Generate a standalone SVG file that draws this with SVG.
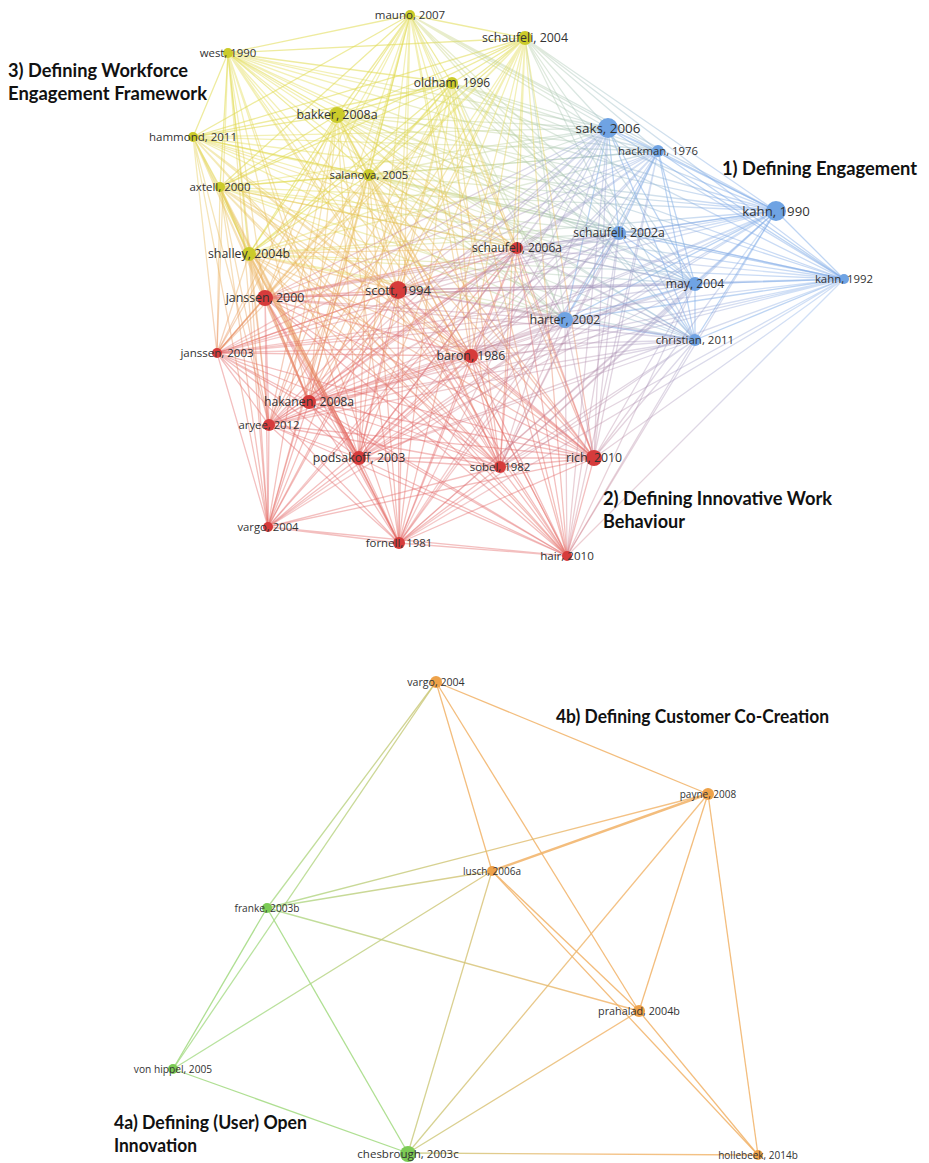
<svg xmlns="http://www.w3.org/2000/svg" width="929" height="1163" viewBox="0 0 929 1163">
<defs>
<linearGradient id="gYR" gradientUnits="userSpaceOnUse" x1="0" y1="110" x2="0" y2="430"><stop offset="0" stop-color="#e2db52"/><stop offset="0.5" stop-color="#eab15a"/><stop offset="1" stop-color="#e46a62"/></linearGradient>
<linearGradient id="gBR" gradientUnits="userSpaceOnUse" x1="720" y1="220" x2="420" y2="470"><stop offset="0" stop-color="#7ea8e6"/><stop offset="1" stop-color="#e26a6a"/></linearGradient>
<linearGradient id="gYB" gradientUnits="userSpaceOnUse" x1="330" y1="0" x2="720" y2="0"><stop offset="0" stop-color="#e2db52"/><stop offset="0.5" stop-color="#b7cfa8"/><stop offset="1" stop-color="#7ea8e6"/></linearGradient>
<linearGradient id="gGO" gradientUnits="userSpaceOnUse" x1="260" y1="0" x2="600" y2="0"><stop offset="0" stop-color="#a6db86"/><stop offset="1" stop-color="#f1b266"/></linearGradient>
</defs>
<style>
.e{fill:none;stroke-width:1.3}
.yy{stroke:#e0da50;stroke-opacity:.55}
.bb{stroke:#7eace8;stroke-opacity:.5}
.rr{stroke:#e26666;stroke-opacity:.42}
.yb{stroke:url(#gYB);stroke-opacity:.42}
.yr{stroke:url(#gYR);stroke-opacity:.42}
.br{stroke:url(#gBR);stroke-opacity:.36}
.oo{stroke:#f1b266;stroke-opacity:.85;stroke-width:1.3}
.go{stroke:url(#gGO);stroke-opacity:.8;stroke-width:1.3}
.gg{stroke:#a6db86;stroke-opacity:.9;stroke-width:1.3}
.ny{fill:#cbcb2a}
.nb{fill:#6fa3e3}
.nr{fill:#d63b3b}
.no{fill:#eea24a}
.ng{fill:#7ccb55}
.l{font-family:"Open Sans","Liberation Sans",sans-serif;fill:#333;text-anchor:middle}
.t{font-family:Lato,"Open Sans","Liberation Sans",sans-serif;font-weight:700;font-size:18px;fill:#111}
</style>
<g id="connectors">
<g id="top-edges">
<path class="e yy" d="M410 15L525 38M410 15L228 53M410 15L452 83M410 15L337 115M410 15L193 137M410 15L369 175M410 15L220 187M410 15L249 254"/>
<path class="e yy" d="M525 38L228 53M525 38L452 83M525 38L337 115M525 38L193 137M525 38L369 175M525 38L220 187M525 38L249 254"/>
<path class="e yy" d="M228 53L452 83M228 53L337 115M228 53L193 137M228 53L369 175M228 53L220 187M228 53L249 254"/>
<path class="e yy" d="M452 83L337 115M452 83L193 137M452 83L369 175M452 83L220 187M452 83L249 254"/>
<path class="e yy" d="M337 115L193 137M337 115L369 175M337 115L220 187M337 115L249 254"/>
<path class="e yy" d="M193 137L369 175M193 137L220 187M193 137L249 254"/>
<path class="e yy" d="M369 175L220 187M369 175L249 254"/>
<path class="e yy" style="stroke-width:2.4" d="M220 187L249 254"/>
<path class="e bb" d="M608 128L658 151M608 128L776 211M608 128L619 233M608 128L695 284M608 128L844 279M608 128L565 320M608 128L695 340"/>
<path class="e bb" d="M658 151L776 211M658 151L619 233M658 151L695 284M658 151L844 279M658 151L565 320M658 151L695 340"/>
<path class="e bb" d="M776 211L619 233M776 211L695 284M776 211L844 279M776 211L565 320M776 211L695 340"/>
<path class="e bb" d="M619 233L695 284M619 233L844 279M619 233L565 320M619 233L695 340"/>
<path class="e bb" d="M695 284L844 279M695 284L565 320M695 284L695 340"/>
<path class="e bb" d="M844 279L565 320M844 279L695 340"/>
<path class="e bb" d="M565 320L695 340"/>
<path class="e rr" d="M517 248L398 290M517 248L265 298M517 248L217 353M517 248L471 356M517 248L309 402M517 248L269 425M517 248L359 458M517 248L500 467M517 248L594 458M517 248L268 527M517 248L399 543M517 248L567 556"/>
<path class="e rr" d="M398 290L265 298M398 290L217 353M398 290L471 356M398 290L309 402M398 290L269 425M398 290L359 458M398 290L500 467M398 290L594 458M398 290L268 527M398 290L399 543M398 290L567 556"/>
<path class="e rr" d="M265 298L217 353M265 298L471 356M265 298L269 425M265 298L500 467M265 298L594 458M265 298L268 527M265 298L399 543M265 298L567 556"/>
<path class="e rr" style="stroke-width:2.2" d="M265 298L309 402M265 298L359 458"/>
<path class="e rr" d="M217 353L471 356M217 353L309 402M217 353L269 425M217 353L359 458M217 353L500 467M217 353L594 458M217 353L268 527M217 353L399 543M217 353L567 556"/>
<path class="e rr" d="M471 356L309 402M471 356L269 425M471 356L359 458M471 356L500 467M471 356L594 458M471 356L268 527M471 356L399 543M471 356L567 556"/>
<path class="e rr" d="M309 402L269 425M309 402L359 458M309 402L500 467M309 402L594 458M309 402L268 527M309 402L399 543M309 402L567 556"/>
<path class="e rr" d="M269 425L359 458M269 425L500 467M269 425L594 458M269 425L268 527M269 425L399 543M269 425L567 556"/>
<path class="e rr" d="M359 458L500 467M359 458L594 458M359 458L268 527M359 458L399 543M359 458L567 556"/>
<path class="e rr" d="M500 467L594 458M500 467L268 527M500 467L399 543M500 467L567 556"/>
<path class="e rr" d="M594 458L268 527M594 458L399 543M594 458L567 556"/>
<path class="e rr" d="M268 527L399 543M268 527L567 556M399 543L567 556"/>
<path class="e yb" d="M410 15L608 128M410 15L658 151M410 15L776 211M410 15L619 233M410 15L695 284M410 15L844 279M410 15L565 320M410 15L695 340"/>
<path class="e yb" d="M525 38L608 128M525 38L658 151M525 38L776 211M525 38L619 233M525 38L695 284M525 38L844 279M525 38L565 320M525 38L695 340"/>
<path class="e yb" d="M228 53L608 128M228 53L658 151M228 53L776 211M228 53L619 233M228 53L695 284M228 53L844 279M228 53L565 320M228 53L695 340"/>
<path class="e yb" d="M452 83L608 128M452 83L658 151M452 83L776 211M452 83L619 233M452 83L695 284M452 83L844 279M452 83L565 320M452 83L695 340"/>
<path class="e yb" d="M337 115L608 128M337 115L658 151M337 115L776 211M337 115L619 233M337 115L695 284M337 115L844 279M337 115L565 320M337 115L695 340"/>
<path class="e yb" d="M193 137L608 128M193 137L658 151M193 137L776 211M193 137L619 233M193 137L695 284M193 137L844 279M193 137L565 320M193 137L695 340"/>
<path class="e yb" d="M369 175L608 128M369 175L658 151M369 175L776 211M369 175L619 233M369 175L695 284M369 175L844 279M369 175L565 320M369 175L695 340"/>
<path class="e yb" d="M220 187L608 128M220 187L658 151M220 187L776 211M220 187L619 233M220 187L695 284M220 187L844 279M220 187L565 320M220 187L695 340"/>
<path class="e yb" d="M249 254L608 128M249 254L658 151M249 254L776 211M249 254L619 233M249 254L695 284M249 254L844 279M249 254L565 320M249 254L695 340"/>
<path class="e yr" d="M410 15L517 248M410 15L398 290M410 15L265 298M410 15L217 353M410 15L471 356M410 15L309 402M410 15L269 425M410 15L359 458M410 15L500 467M410 15L594 458M410 15L268 527M410 15L399 543M410 15L567 556"/>
<path class="e yr" d="M525 38L517 248M525 38L398 290M525 38L265 298M525 38L217 353M525 38L471 356M525 38L309 402M525 38L269 425M525 38L359 458M525 38L500 467M525 38L594 458M525 38L268 527M525 38L399 543M525 38L567 556"/>
<path class="e yr" d="M228 53L517 248M228 53L398 290M228 53L265 298M228 53L217 353M228 53L471 356M228 53L309 402M228 53L269 425M228 53L359 458M228 53L500 467M228 53L594 458M228 53L268 527M228 53L399 543M228 53L567 556"/>
<path class="e yr" d="M452 83L517 248M452 83L398 290M452 83L265 298M452 83L217 353M452 83L471 356M452 83L309 402M452 83L269 425M452 83L359 458M452 83L500 467M452 83L594 458M452 83L268 527M452 83L399 543M452 83L567 556"/>
<path class="e yr" d="M337 115L517 248M337 115L398 290M337 115L265 298M337 115L217 353M337 115L471 356M337 115L309 402M337 115L269 425M337 115L359 458M337 115L500 467M337 115L594 458M337 115L268 527M337 115L399 543M337 115L567 556"/>
<path class="e yr" d="M193 137L517 248M193 137L398 290M193 137L265 298M193 137L217 353M193 137L471 356M193 137L309 402M193 137L269 425M193 137L359 458M193 137L500 467M193 137L594 458M193 137L268 527M193 137L399 543M193 137L567 556"/>
<path class="e yr" d="M369 175L517 248M369 175L398 290M369 175L265 298M369 175L217 353M369 175L471 356M369 175L309 402M369 175L269 425M369 175L359 458M369 175L500 467M369 175L594 458M369 175L268 527M369 175L399 543M369 175L567 556"/>
<path class="e yr" d="M220 187L517 248M220 187L398 290M220 187L265 298M220 187L217 353M220 187L471 356M220 187L309 402M220 187L269 425M220 187L359 458M220 187L500 467M220 187L594 458M220 187L268 527M220 187L399 543M220 187L567 556"/>
<path class="e yr" d="M249 254L517 248M249 254L398 290M249 254L265 298M249 254L217 353M249 254L471 356M249 254L309 402M249 254L269 425M249 254L500 467M249 254L594 458M249 254L268 527M249 254L399 543M249 254L567 556"/>
<path class="e yr" style="stroke-width:2.4;stroke-opacity:.55" d="M249 254L359 458"/>
<path class="e br" d="M608 128L517 248M608 128L398 290M608 128L265 298M608 128L217 353M608 128L471 356M608 128L309 402M608 128L269 425M608 128L359 458M608 128L500 467M608 128L594 458M608 128L268 527M608 128L399 543M608 128L567 556"/>
<path class="e br" d="M658 151L517 248M658 151L398 290M658 151L265 298M658 151L217 353M658 151L471 356M658 151L309 402M658 151L269 425M658 151L359 458M658 151L500 467M658 151L594 458M658 151L399 543M658 151L567 556"/>
<path class="e br" d="M776 211L517 248M776 211L398 290M776 211L265 298M776 211L217 353M776 211L471 356M776 211L309 402M776 211L269 425M776 211L359 458M776 211L500 467M776 211L594 458M776 211L268 527M776 211L399 543M776 211L567 556"/>
<path class="e br" d="M619 233L517 248M619 233L398 290M619 233L265 298M619 233L217 353M619 233L471 356M619 233L309 402M619 233L269 425M619 233L359 458M619 233L500 467M619 233L594 458M619 233L399 543M619 233L567 556"/>
<path class="e br" d="M695 284L517 248M695 284L398 290M695 284L265 298M695 284L217 353M695 284L471 356M695 284L309 402M695 284L269 425M695 284L359 458M695 284L500 467M695 284L594 458M695 284L399 543M695 284L567 556"/>
<path class="e br" d="M844 279L517 248M844 279L398 290M844 279L265 298M844 279L217 353M844 279L471 356M844 279L309 402M844 279L269 425M844 279L359 458M844 279L500 467M844 279L594 458M844 279L399 543M844 279L567 556"/>
<path class="e br" d="M565 320L517 248M565 320L398 290M565 320L265 298M565 320L217 353M565 320L471 356M565 320L309 402M565 320L269 425M565 320L359 458M565 320L500 467M565 320L594 458M565 320L268 527M565 320L399 543M565 320L567 556"/>
<path class="e br" d="M695 340L517 248M695 340L398 290M695 340L265 298M695 340L217 353M695 340L471 356M695 340L309 402M695 340L269 425M695 340L359 458M695 340L500 467M695 340L594 458M695 340L399 543M695 340L567 556"/>
</g>
<g id="bottom-edges">
<line class="oo" x1="436" y1="682" x2="492" y2="871"/>
<line class="oo" x1="436" y1="682" x2="708" y2="794"/>
<line class="oo" x1="436" y1="682" x2="639" y2="1011"/>
<line class="oo" style="stroke-width:2.4" x1="708" y1="794" x2="492" y2="871"/>
<line class="oo" x1="708" y1="794" x2="639" y2="1011"/>
<line class="oo" x1="708" y1="794" x2="758" y2="1155"/>
<line class="oo" x1="492" y1="871" x2="639" y2="1011"/>
<line class="oo" x1="492" y1="871" x2="758" y2="1155"/>
<line class="oo" x1="639" y1="1011" x2="758" y2="1155"/>
<line class="go" x1="267" y1="908" x2="436" y2="682"/>
<line class="go" x1="173" y1="1069" x2="436" y2="682"/>
<line class="go" x1="173" y1="1069" x2="492" y2="871"/>
<line class="go" x1="267" y1="908" x2="492" y2="871"/>
<line class="go" x1="267" y1="908" x2="708" y2="794"/>
<line class="go" x1="267" y1="908" x2="639" y2="1011"/>
<line class="go" x1="408" y1="1153" x2="492" y2="871"/>
<line class="go" x1="408" y1="1153" x2="708" y2="794"/>
<line class="go" x1="408" y1="1153" x2="639" y2="1011"/>
<line class="go" x1="408" y1="1153" x2="758" y2="1155"/>
<line class="gg" x1="267" y1="908" x2="173" y2="1069"/>
<line class="gg" x1="267" y1="908" x2="408" y2="1153"/>
<line class="gg" x1="173" y1="1069" x2="408" y2="1153"/>
</g>
</g>
<g id="n-mauno-2007"><circle class="ny" cx="410" cy="15" r="5"/><text class="l" x="410" y="19" font-size="11.5">mauno, 2007</text></g>
<g id="n-schaufeli-2004"><circle class="ny" cx="525" cy="38" r="7"/><text class="l" x="525" y="42" font-size="12.4">schaufeli, 2004</text></g>
<g id="n-west-1990"><circle class="ny" cx="228" cy="53" r="5"/><text class="l" x="228" y="57" font-size="11.4">west, 1990</text></g>
<g id="n-oldham-1996"><circle class="ny" cx="452" cy="83" r="6"/><text class="l" x="452" y="87" font-size="12">oldham, 1996</text></g>
<g id="n-bakker-2008a"><circle class="ny" cx="337" cy="115" r="8"/><text class="l" x="337" y="119" font-size="12.4">bakker, 2008a</text></g>
<g id="n-hammond-2011"><circle class="ny" cx="193" cy="137" r="5"/><text class="l" x="193" y="141" font-size="11.5">hammond, 2011</text></g>
<g id="n-salanova-2005"><circle class="ny" cx="369" cy="175" r="6"/><text class="l" x="369" y="179" font-size="11.4">salanova, 2005</text></g>
<g id="n-axtell-2000"><circle class="ny" cx="220" cy="187" r="5"/><text class="l" x="220" y="191" font-size="11.5">axtell, 2000</text></g>
<g id="n-shalley-2004b"><circle class="ny" cx="249" cy="254" r="7"/><text class="l" x="249" y="258" font-size="12.4">shalley, 2004b</text></g>
<g id="n-saks-2006"><circle class="nb" cx="608" cy="128" r="10"/><text class="l" x="608" y="132.5" font-size="13.4">saks, 2006</text></g>
<g id="n-hackman-1976"><circle class="nb" cx="658" cy="151" r="6"/><text class="l" x="658" y="155" font-size="11.3">hackman, 1976</text></g>
<g id="n-kahn-1990"><circle class="nb" cx="776" cy="211" r="10"/><text class="l" x="776" y="215.5" font-size="13.2">kahn, 1990</text></g>
<g id="n-schaufeli-2002a"><circle class="nb" cx="619" cy="233" r="7"/><text class="l" x="619" y="237" font-size="12.2">schaufeli, 2002a</text></g>
<g id="n-may-2004"><circle class="nb" cx="695" cy="284" r="7"/><text class="l" x="695" y="288" font-size="12.2">may, 2004</text></g>
<g id="n-kahn-1992"><circle class="nb" cx="844" cy="279" r="5"/><text class="l" x="844" y="283" font-size="11.4">kahn, 1992</text></g>
<g id="n-harter-2002"><circle class="nb" cx="565" cy="320" r="8"/><text class="l" x="565" y="324" font-size="12.4">harter, 2002</text></g>
<g id="n-christian-2011"><circle class="nb" cx="695" cy="340" r="6"/><text class="l" x="695" y="344" font-size="11.5">christian, 2011</text></g>
<g id="n-schaufeli-2006a"><circle class="nr" cx="517" cy="248" r="6"/><text class="l" x="517" y="252" font-size="12">schaufeli, 2006a</text></g>
<g id="n-scott-1994"><circle class="nr" cx="398" cy="290" r="9"/><text class="l" x="398" y="294.5" font-size="13">scott, 1994</text></g>
<g id="n-janssen-2000"><circle class="nr" cx="265" cy="298" r="8"/><text class="l" x="265" y="302" font-size="12.4">janssen, 2000</text></g>
<g id="n-janssen-2003"><circle class="nr" cx="217" cy="353" r="5"/><text class="l" x="217" y="357" font-size="11.5">janssen, 2003</text></g>
<g id="n-baron-1986"><circle class="nr" cx="471" cy="356" r="7"/><text class="l" x="471" y="360" font-size="12.3">baron, 1986</text></g>
<g id="n-hakanen-2008a"><circle class="nr" cx="309" cy="402" r="7"/><text class="l" x="309" y="406" font-size="12.2">hakanen, 2008a</text></g>
<g id="n-aryee-2012"><circle class="nr" cx="269" cy="425" r="6"/><text class="l" x="269" y="429" font-size="11.3">aryee, 2012</text></g>
<g id="n-podsakoff-2003"><circle class="nr" cx="359" cy="458" r="7"/><text class="l" x="359" y="462" font-size="12.4">podsakoff, 2003</text></g>
<g id="n-sobel-1982"><circle class="nr" cx="500" cy="467" r="6"/><text class="l" x="500" y="471" font-size="11.4">sobel, 1982</text></g>
<g id="n-rich-2010"><circle class="nr" cx="594" cy="458" r="8"/><text class="l" x="594" y="462" font-size="12.3">rich, 2010</text></g>
<g id="n-vargo-2004-top"><circle class="nr" cx="268" cy="527" r="5"/><text class="l" x="268" y="531" font-size="11.3">vargo, 2004</text></g>
<g id="n-fornell-1981"><circle class="nr" cx="399" cy="543" r="6"/><text class="l" x="399" y="547" font-size="11.4">fornell, 1981</text></g>
<g id="n-hair-2010"><circle class="nr" cx="567" cy="556" r="5"/><text class="l" x="567" y="560" font-size="11.6">hair, 2010</text></g>
<g id="n-vargo-2004"><circle class="no" cx="436" cy="682" r="6"/><text class="l" x="436" y="686" font-size="10.6">vargo, 2004</text></g>
<g id="n-payne-2008"><circle class="no" cx="708" cy="794" r="6"/><text class="l" x="708" y="797.5" font-size="10">payne, 2008</text></g>
<g id="n-lusch-2006a"><circle class="no" cx="492" cy="871" r="5"/><text class="l" x="492" y="874.5" font-size="10">lusch, 2006a</text></g>
<g id="n-franke-2003b"><circle class="ng" cx="267" cy="908" r="5"/><text class="l" x="267" y="911.5" font-size="10.1">franke, 2003b</text></g>
<g id="n-prahalad-2004b"><circle class="no" cx="639" cy="1011" r="6"/><text class="l" x="639" y="1015" font-size="10.8">prahalad, 2004b</text></g>
<g id="n-von-hippel-2005"><circle class="ng" cx="173" cy="1069" r="5"/><text class="l" x="173" y="1072.5" font-size="10.2">von hippel, 2005</text></g>
<g id="n-chesbrough-2003c"><circle class="ng" cx="408" cy="1154" r="8"/><text class="l" x="408" y="1158" font-size="11.5">chesbrough, 2003c</text></g>
<g id="n-hollebeek-2014b"><circle class="no" cx="758" cy="1155" r="5"/><text class="l" x="758" y="1158.5" font-size="10">hollebeek, 2014b</text></g>
<g id="titles">
<text class="t" x="8" y="77" textLength="180" lengthAdjust="spacingAndGlyphs">3) Defining Workforce</text>
<text class="t" x="8" y="100" textLength="199" lengthAdjust="spacingAndGlyphs">Engagement Framework</text>
<text class="t" x="722" y="175" textLength="195" lengthAdjust="spacingAndGlyphs">1) Defining Engagement</text>
<text class="t" x="603" y="505" textLength="229" lengthAdjust="spacingAndGlyphs">2) Defining Innovative Work</text>
<text class="t" x="603" y="528" textLength="82" lengthAdjust="spacingAndGlyphs">Behaviour</text>
<text class="t" x="556" y="723" textLength="273" lengthAdjust="spacingAndGlyphs">4b) Defining Customer Co-Creation</text>
<text class="t" x="114" y="1129" textLength="193" lengthAdjust="spacingAndGlyphs">4a) Defining (User) Open</text>
<text class="t" x="114" y="1152" textLength="83" lengthAdjust="spacingAndGlyphs">Innovation</text>
</g>
</svg>
